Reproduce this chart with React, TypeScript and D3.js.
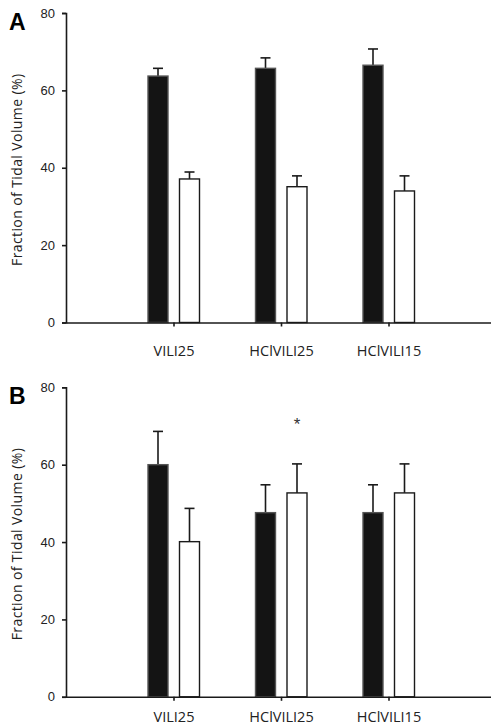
import React, { useEffect, useRef } from "react";
import * as d3 from "d3";

// groups on the x axis
const categories = ["VILI25", "HClVILI25", "HClVILI15"];

// panel A: black / white bars and their SEM
const aBlack = [63.7, 65.7, 66.5];
const aBlackErr = [2.0, 2.7, 4.2];
const aWhite = [37.1, 35.1, 34.0];
const aWhiteErr = [1.8, 2.8, 3.9];

// panel B
const bBlack = [60.0, 47.6, 47.6];
const bBlackErr = [8.6, 7.2, 7.2];
const bWhite = [40.1, 52.7, 52.7];
const bWhiteErr = [8.6, 7.5, 7.5];
const bStars = ["", "*", ""];

const yTicks = [0, 20, 40, 60, 80];

const W = 491,
  H = 728;

export default function App() {
  const ref = useRef<SVGSVGElement>(null);

  useEffect(() => {
    const svg = d3.select(ref.current);
    svg.selectAll("*").remove();

    const x = d3.scalePoint<string>().domain(categories).range([66, 496]).padding(1);

    const drawPanel = (
      letter: string,
      y0: number,
      y80: number,
      labelPad: number,
      black: number[],
      blackErr: number[],
      white: number[],
      whiteErr: number[],
      stars: string[]
    ) => {
      const y = d3.scaleLinear().domain([0, 80]).range([y0, y80]);
      const g = svg.append("g");

      // bars
      const bw = 20;
      const rows = categories.map((c, i) => ({ c, i }));

      const drawBars = (vals: number[], errs: number[], off: number, fill: string, stroke: string) => {
        g.selectAll(null)
          .data(rows)
          .enter()
          .append("line")
          .attr("x1", (d) => x(d.c)! + off)
          .attr("x2", (d) => x(d.c)! + off)
          .attr("y1", (d) => y(vals[d.i]))
          .attr("y2", (d) => y(vals[d.i] + errs[d.i]))
          .attr("stroke", "#1a1a1a")
          .attr("stroke-width", 1.6);
        g.selectAll(null)
          .data(rows)
          .enter()
          .append("line")
          .attr("x1", (d) => x(d.c)! + off - 5)
          .attr("x2", (d) => x(d.c)! + off + 5)
          .attr("y1", (d) => y(vals[d.i] + errs[d.i]))
          .attr("y2", (d) => y(vals[d.i] + errs[d.i]))
          .attr("stroke", "#1a1a1a")
          .attr("stroke-width", 1.6);
        g.selectAll(null)
          .data(rows)
          .enter()
          .append("rect")
          .attr("x", (d) => x(d.c)! + off - bw / 2)
          .attr("width", bw)
          .attr("y", (d) => y(vals[d.i]))
          .attr("height", (d) => y(0) - y(vals[d.i]))
          .attr("fill", fill)
          .attr("stroke", stroke)
          .attr("stroke-width", 1.4);
      };
      drawBars(black, blackErr, -15.5, "#141414", "#555");
      drawBars(white, whiteErr, 16, "#fff", "#1a1a1a");

      // significance marks
      g.selectAll(null)
        .data(rows)
        .enter()
        .append("text")
        .attr("x", (d) => x(d.c)! + 16)
        .attr("y", (d) => y(white[d.i] + whiteErr[d.i]) - 34)
        .attr("text-anchor", "middle")
        .style("font-family", "Liberation Sans, Arial, sans-serif")
        .style("font-size", "17px")
        .attr("fill", "#333")
        .text((d) => stars[d.i]);

      // y axis
      const ya = g
        .append("g")
        .attr("transform", "translate(66,0)")
        .call(d3.axisLeft(y).tickValues(yTicks).tickSize(4).tickPadding(7));
      ya.select(".domain").attr("stroke", "#1a1a1a").attr("stroke-width", 1.6);
      ya.selectAll(".tick line").attr("stroke", "#1a1a1a").attr("stroke-width", 1.6);
      ya.selectAll(".tick text")
        .style("font-family", "Liberation Sans, Arial, sans-serif")
        .style("font-size", "13px")
        .attr("fill", "#222");

      // x axis
      const xa = g
        .append("g")
        .attr("transform", `translate(0,${y0})`)
        .call(d3.axisBottom(x).tickSize(4).tickSizeOuter(0).tickPadding(labelPad));
      xa.select(".domain").attr("stroke", "#1a1a1a").attr("stroke-width", 1.6);
      xa.selectAll(".tick line").attr("stroke", "#1a1a1a").attr("stroke-width", 1.6);
      xa.selectAll(".tick text")
        .style("font-family", "Open Sans, sans-serif")
        .style("font-size", "14.5px")
        .attr("fill", "#222");

      // y title
      g.append("text")
        .attr("transform", `translate(22,${(y0 + y80) / 2 + 2}) rotate(-90)`)
        .attr("text-anchor", "middle")
        .style("font-family", "Open Sans, sans-serif")
        .style("font-size", "14px")
        .style("letter-spacing", "0.4px")
        .attr("fill", "#222")
        .text("Fraction of Tidal Volume (%)");

      // panel letter
      g.append("text")
        .attr("x", 9)
        .attr("y", y80 + 17)
        .style("font-family", "Liberation Sans, Arial, sans-serif")
        .style("font-size", "23px")
        .style("font-weight", "bold")
        .attr("fill", "#000")
        .text(letter);
    };

    drawPanel("A", 322.5, 13, 19, aBlack, aBlackErr, aWhite, aWhiteErr, ["", "", ""]);
    drawPanel("B", 696.8, 387.3, 11, bBlack, bBlackErr, bWhite, bWhiteErr, bStars);
  }, []);

  return (
    <div style={{ position: "absolute", left: 0, top: 0 }}>
      <svg ref={ref} width={W} height={H} style={{ display: "block", background: "#fff" }} />
    </div>
  );
}
